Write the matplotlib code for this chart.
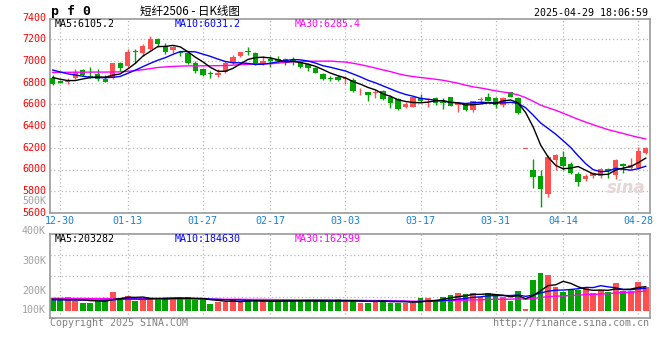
import numpy as np
import matplotlib
matplotlib.use('Agg')
import matplotlib.pyplot as plt

# ---------------- data ----------------
dates = ['12-27', '12-30', '12-31',
         '01-02', '01-03', '01-06', '01-07', '01-08', '01-09', '01-10', '01-13', '01-14', '01-15',
         '01-16', '01-17', '01-20', '01-21', '01-22', '01-23', '01-24', '01-27',
         '02-05', '02-06', '02-07', '02-10', '02-11', '02-12', '02-13', '02-14', '02-17', '02-18',
         '02-19', '02-20', '02-21', '02-24', '02-25', '02-26', '02-27', '02-28',
         '03-03', '03-04', '03-05', '03-06', '03-07', '03-10', '03-11', '03-12', '03-13', '03-14',
         '03-17', '03-18', '03-19', '03-20', '03-21', '03-24', '03-25', '03-26', '03-27', '03-28',
         '03-31', '04-01', '04-02', '04-03', '04-07', '04-08', '04-09', '04-10', '04-11', '04-14',
         '04-15', '04-16', '04-17', '04-18', '04-21', '04-22', '04-23', '04-24', '04-25', '04-28',
         '04-29']

opens = [6846, 6819, 6806, 6846, 6920, 6858, 6877, 6834, 6840, 6982,
         6957, 7088, 7077, 7111, 7203, 7140, 7105, 7078, 7074, 6982,
         6926, 6880, 6874, 6899, 6985, 7043, 7084, 7074, 6976, 7019,
         7019, 7015, 7006, 6988, 6972, 6939, 6880, 6840, 6853, 6830,
         6825, 6710, 6711, 6702, 6723, 6671, 6649, 6579, 6579, 6656,
         6640, 6656, 6620, 6665, 6594, 6594, 6548, 6640, 6668, 6656,
         6594, 6711, 6656, 6190, 5995, 5939, 5779, 6087, 6112, 6050,
         5955, 5909, 5939, 5939, 6001, 5949, 6050, 6010, 6010, 6155]
highs = [6871, 6825, 6840, 6926, 6931, 6945, 6926, 6871, 6985, 6994,
         7111, 7108, 7154, 7234, 7216, 7166, 7139, 7095, 7095, 6997,
         6939, 6905, 6926, 6997, 7059, 7086, 7126, 7086, 7043, 7043,
         7043, 7028, 7040, 6994, 6982, 6945, 6887, 6862, 6871, 6865,
         6846, 6748, 6717, 6733, 6733, 6686, 6662, 6625, 6671, 6696,
         6656, 6665, 6656, 6671, 6616, 6604, 6634, 6665, 6708, 6665,
         6665, 6717, 6665, 6190, 6096, 5995, 6133, 6142, 6173, 6071,
         5979, 5958, 5976, 6019, 6013, 6099, 6056, 6108, 6210, 6210]
lows = [6779, 6794, 6791, 6831, 6858, 6848, 6819, 6803, 6836, 6911,
        6948, 6979, 7049, 7102, 7132, 7065, 7074, 7043, 6972, 6889,
        6859, 6843, 6853, 6889, 6972, 7040, 7059, 6966, 6966, 6942,
        6982, 6966, 6963, 6933, 6911, 6887, 6828, 6816, 6816, 6785,
        6717, 6686, 6631, 6662, 6640, 6570, 6548, 6564, 6573, 6625,
        6579, 6594, 6554, 6585, 6527, 6539, 6533, 6610, 6634, 6564,
        6579, 6665, 6508, 6190, 5826, 5656, 5743, 5995, 5995, 5958,
        5847, 5896, 5927, 5927, 5927, 5909, 5970, 6001, 6001, 6142]
closes = [6791, 6800, 6819, 6893, 6871, 6850, 6831, 6810, 6982, 6933,
          7080, 7084, 7142, 7203, 7157, 7086, 7132, 7072, 6982, 6905,
          6874, 6876, 6893, 6979, 7037, 7083, 7080, 6976, 7000, 7003,
          6997, 6985, 6997, 6948, 6933, 6893, 6834, 6836, 6825, 6834,
          6726, 6712, 6686, 6711, 6649, 6616, 6554, 6607, 6665, 6634,
          6647, 6616, 6614, 6588, 6610, 6548, 6628, 6650, 6634, 6594,
          6656, 6671, 6517, 6190, 5933, 5819, 6118, 6133, 6032, 5970,
          5888, 5945, 5964, 6001, 5985, 6087, 6030, 6041, 6173, 6195]
volumes_k = [104, 96, 112, 85, 63, 68, 90, 90, 156, 104,
             123, 85, 104, 104, 96, 104, 104, 104, 112, 90,
             104, 55, 76, 76, 96, 80, 80, 85, 80, 85,
             85, 80, 85, 85, 85, 80, 80, 77, 96, 77,
             90, 68, 68, 90, 90, 68, 68, 68, 68, 104,
             104, 90, 112, 131, 150, 139, 150, 112, 150, 123,
             112, 85, 164, 16, 254, 314, 295, 194, 159, 172,
             172, 194, 150, 172, 159, 232, 167, 167, 238, 194]

# moving-average values before enough bars exist
ma5_head = [6848, 6832, 6820, 6820]
ma10_head = [6917, 6899, 6882, 6871, 6860, 6850, 6848, 6846, 6850]
ma30_head = [6895, 6896, 6896, 6897, 6897, 6898, 6898, 6898, 6899, 6900,
             6905, 6912, 6920, 6930, 6940, 6946, 6950, 6953, 6955, 6955,
             6956, 6956, 6957, 6958, 6962, 6966, 6970, 6974, 6976]
vma5_head = [96, 95, 93, 92]
vma10_head = [92, 92, 91, 91, 90, 90, 89, 90, 92]
vma30_head = [104, 104, 103, 103, 103, 102, 102, 102, 101, 101,
              101, 100, 100, 100, 99, 99, 99, 98, 98, 98,
              97, 97, 97, 96, 96, 96, 95, 95, 95]

price_ticks = [5600, 5800, 6000, 6200, 6400, 6600, 6800, 7000, 7200, 7400]
x_tick_labels = ['12-30', '01-13', '01-27', '02-17', '03-03', '03-17', '03-31', '04-14', '04-28']
vol_tick_labels = ['500K', '400K', '300K', '200K', '100K']

title_code = 'p f 0'
title_text = '短纤2506 - 日K线图'
stamp_text = '2025-04-29 18:06:59'
ma_label_values = ['MA5:6105.2', 'MA10:6031.2', 'MA30:6285.4']
vma_label_values = ['MA5:203282', 'MA10:184630', 'MA30:162599']

# ---------------- helpers ----------------
def moving_average(values, n, head):
    v = np.asarray(values, dtype=float)
    body = np.convolve(v, np.ones(n) / n, mode='valid')
    return np.concatenate([np.asarray(head, dtype=float), body])

W, H = 660, 360
RED = '#ff5050'
GREEN = '#00a300'
GRID = '#b8b8b8'
FRAME = '#9a9a9a'
MONO = 'DejaVu Sans Mono'

def fx(px):
    return px / W

def fy(py):
    return 1 - py / H

fig = plt.figure(figsize=(W / 100, H / 100), dpi=100)
fig.patch.set_facecolor('white')

axp = fig.add_axes([fx(50), fy(213), fx(600), 194 / H])
axv = fig.add_axes([fx(50), fy(317.7), fx(600), 83.4 / H])

n = len(dates)
x = np.arange(n)
o = np.array(opens, float)
h = np.array(highs, float)
l = np.array(lows, float)
c = np.array(closes, float)
up = c >= o
cols = [RED if u else GREEN for u in up]

xmin, xmax = -0.36, n - 1 + 0.57
tick_pos = [dates.index(d) for d in x_tick_labels]

# ---- price axes ----
axp.set_xlim(xmin, xmax)
axp.set_ylim(5600, 7387)
for t in price_ticks[1:-1]:
    axp.axhline(t, color=GRID, lw=0.9, ls=(0, (1, 2)), zorder=0)
for p in tick_pos:
    axp.axvline(p, color=GRID, lw=0.9, ls=(0, (1, 2)), zorder=0)

axp.vlines(x, l, h, colors=cols, lw=1.0, zorder=2)
body_bottom = np.minimum(o, c)
body_height = np.maximum(np.abs(c - o), 9)
axp.bar(x, body_height, bottom=body_bottom, width=0.72, color=cols, lw=0, zorder=3)

ma5 = moving_average(closes, 5, ma5_head)
ma10 = moving_average(closes, 10, ma10_head)
ma30 = moving_average(closes, 30, ma30_head)
axp.plot(x, ma30, color='#ff00ff', lw=1.0, zorder=4)
axp.plot(x, ma10, color='#0000ff', lw=1.0, zorder=5)
axp.plot(x, ma5, color='black', lw=1.0, zorder=6)

axp.set_xticks([])
axp.set_yticks([])
for s in axp.spines.values():
    s.set_color(FRAME)
    s.set_linewidth(1.2)

for t in price_ticks:
    ypix = 212.7 - (t - 5600) * 0.1084
    fig.text(fx(46), fy(ypix), str(t), color='#ff0000', fontsize=7.2, family=MONO,
             ha='right', va='center')

# x labels: horizontal position from the data axis, vertical centre at y=221.5 px
lab_y = (fy(221.5) - fy(213)) / (194 / H)
for p, lab in zip(tick_pos, x_tick_labels):
    axp.text(p, lab_y, lab, transform=axp.get_xaxis_transform(), color='#1a7fd4',
             fontsize=7.2, family=MONO, ha='center', va='center', clip_on=False)

# ---- volume axes ----
vbase_px = 311.0
k_per_px = 8.2
vlo = -(317.7 - vbase_px) * k_per_px
vhi = (vbase_px - 234.3) * k_per_px
axv.set_xlim(xmin, xmax)
axv.set_ylim(vlo, vhi)
for f in (0.25, 0.5, 0.75):
    axv.axhline(vlo + f * (vhi - vlo), color=GRID, lw=0.9, ls=(0, (1, 2)), zorder=0)
for p in tick_pos:
    axv.axvline(p, color=GRID, lw=0.9, ls=(0, (1, 2)), zorder=0)
axv.bar(x, volumes_k, width=0.76, color=cols, lw=0, zorder=2)
vma5 = moving_average(volumes_k, 5, vma5_head)
vma10 = moving_average(volumes_k, 10, vma10_head)
vma30 = moving_average(volumes_k, 30, vma30_head)
axv.plot(x, vma30, color='#ff00ff', lw=1.0, zorder=4)
axv.plot(x, vma10, color='#0000ff', lw=1.0, zorder=5)
axv.plot(x, vma5, color='black', lw=1.0, zorder=6)
axv.set_xticks([])
axv.set_yticks([])
for s in axv.spines.values():
    s.set_color(FRAME)
    s.set_linewidth(1.2)

for lab, ypix in zip(vol_tick_labels, [200.7, 231, 261, 290.7, 310]):
    fig.text(fx(46), fy(ypix), lab, color='#a0a0a0', fontsize=7.2, family=MONO,
             ha='right', va='center')

# ---- header / MA labels / footer ----
fig.text(fx(51), fy(11), title_code, color='black', fontsize=9.5, family='DejaVu Sans Mono',
         weight='bold', ha='left', va='center')
fig.text(fx(140), fy(11), title_text, color='black', fontsize=8.3,
         family=['Noto Sans CJK SC', 'DejaVu Sans'], ha='left', va='center')
fig.text(fx(648), fy(12.5), stamp_text, color='black', fontsize=7.2, family=MONO,
         ha='right', va='center')

for lab, px, colr in zip(ma_label_values, [55, 175, 295], ['black', '#0000ff', '#ff00ff']):
    fig.text(fx(px), fy(24), lab, color=colr, fontsize=7.2, family=MONO, ha='left', va='center')
for lab, px, colr in zip(vma_label_values, [55, 175, 295], ['black', '#0000ff', '#ff00ff']):
    fig.text(fx(px), fy(238.5), lab, color=colr, fontsize=7.2, family=MONO, ha='left', va='center')

fig.text(fx(50), fy(323.5), 'Copyright 2025 SINA.COM', color='#808080', fontsize=7.2,
         family=MONO, ha='left', va='center')
fig.text(fx(649), fy(323.5), 'http://finance.sina.com.cn', color='#808080', fontsize=7.2,
         family=MONO, ha='right', va='center')
fig.text(fx(626), fy(188), 'sina', color='#e6d6d6', fontsize=12, style='italic',
         weight='bold', ha='center', va='center')

fig.savefig('out.png', dpi=100, facecolor='white')
